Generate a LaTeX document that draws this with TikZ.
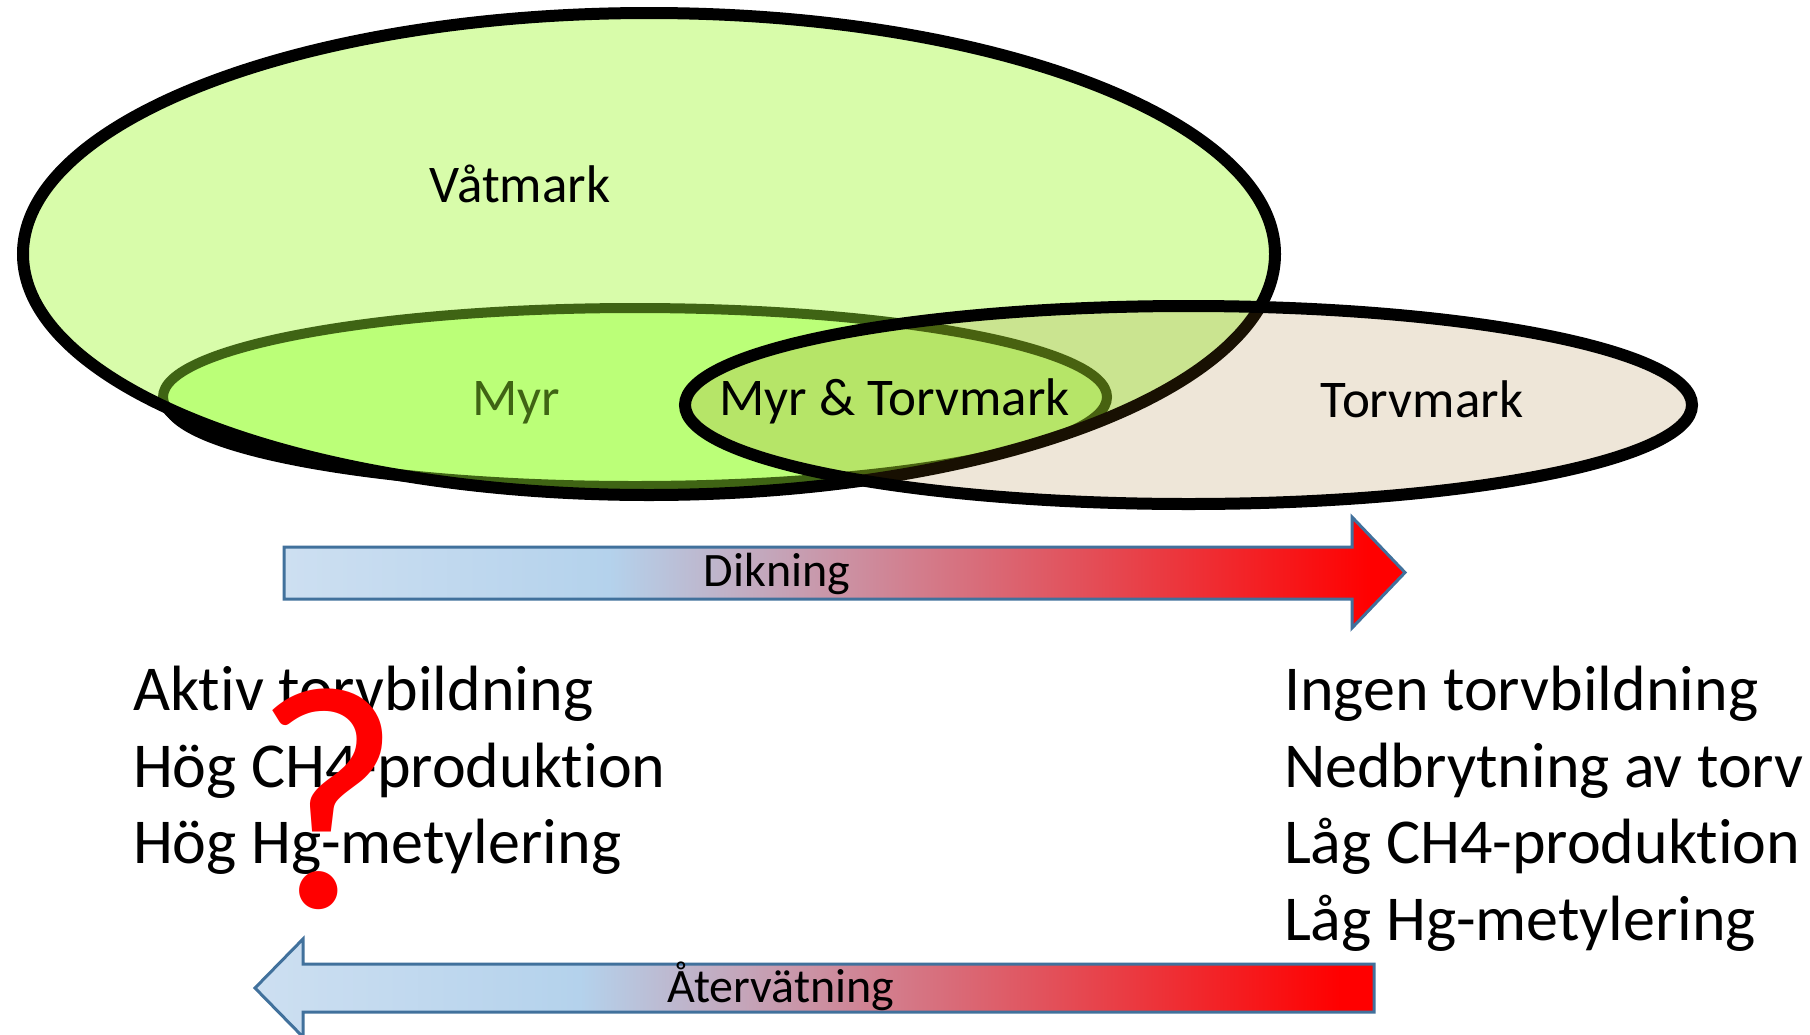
\documentclass[tikz,border=0pt]{standalone}
\usepackage{fontspec}
\setmainfont{Carlito}[Ligatures=NoCommon]

% fills of the three sets and of their overlaps
\definecolor{wetfill}{RGB}{216,252,170}
\definecolor{bogfill}{RGB}{187,255,120}
\definecolor{bogedge}{RGB}{63,100,20}
\definecolor{peatfill}{RGB}{238,230,216}
\definecolor{wetpeat}{RGB}{202,228,144}
\definecolor{bogpeat}{RGB}{182,229,104}
\definecolor{bogedgedim}{RGB}{72,98,16}
\definecolor{wetedgedim}{RGB}{24,16,2}
% arrows
\definecolor{arrowedge}{RGB}{65,113,156}
\definecolor{paleblue}{RGB}{205,223,241}
\definecolor{skyblue}{RGB}{180,210,236}
\definecolor{hotred}{RGB}{255,0,0}
\definecolor{qred}{RGB}{255,0,0}

\pgfdeclarehorizontalshading{flowshade}{100bp}{%
  color(0bp)=(paleblue); color(25bp)=(paleblue); color(39.5bp)=(skyblue);
  color(73.5bp)=(hotred); color(100bp)=(hotred)}

\begin{document}
\begin{tikzpicture}[x=1pt,y=-1pt,
  wetr/.style={x radius=626, y radius=241},
  bogr/.style={x radius=472, y radius=89},
  peatr/.style={x radius=503.5, y radius=99},
  lbl/.style={inner sep=0pt, outer sep=0pt},
  bigtxt/.style={lbl, anchor=base west, font=\fontsize{64}{76}\selectfont},
  setname/.style={lbl, anchor=base, font=\fontsize{53}{62}\selectfont},
  flowname/.style={lbl, anchor=base, font=\fontsize{48}{56}\selectfont},
  flowarrow/.style={draw=arrowedge, line width=3pt, line join=miter, shade, shading=flowshade},
]
\useasboundingbox[fill=white] (0,0) rectangle (1810,1034);

\coordinate (wetc) at (649,254);
\coordinate (bogc) at (635,397);
\coordinate (bogshadow) at (635,404);
\coordinate (peatc) at (1188.5,405);

% Myr and its shadow, dark wherever they stick out below Våtmark
\begin{scope}
  \clip (0,0) rectangle (860,1034);
  \filldraw[black, line width=10pt] (bogc) ellipse [bogr];
  \fill[black] (bogshadow) ellipse [bogr];
\end{scope}
% Våtmark interior
\fill[wetfill] (wetc) ellipse [wetr];
% Myr inside Våtmark
\begin{scope}
  \clip (wetc) ellipse [wetr];
  \filldraw[fill=bogfill, draw=bogedge, line width=10pt] (bogc) ellipse [bogr];
\end{scope}
% Våtmark rim
\draw[black, line width=12pt] (wetc) ellipse [wetr];

% Torvmark, tinting everything below it
\begin{scope}
  \clip (peatc) ellipse [peatr];
  \fill[peatfill] (0,0) rectangle (1810,1034);
  \begin{scope}
    \clip (wetc) ellipse [wetr];
    \fill[wetpeat] (0,0) rectangle (1810,1034);
    \clip (bogc) ellipse [bogr];
    \fill[bogpeat] (0,0) rectangle (1810,1034);
  \end{scope}
  \begin{scope}
    \clip (wetc) ellipse [wetr];
    \draw[bogedgedim, line width=10pt] (bogc) ellipse [bogr];
  \end{scope}
  \draw[wetedgedim, line width=12pt] (wetc) ellipse [wetr];
\end{scope}
\draw[black, line width=12pt] (peatc) ellipse [peatr];

% set names
\node[setname] (wetlabel) at (520,202) {Våtmark};
\node[setname, text=bogedge] (boglabel) at (516,415) {Myr};
\node[setname] (bothlabel) at (894.5,415) {Myr \& Torvmark};
\node[setname] (peatlabel) at (1422,417) {Torvmark};

% drainage arrow
\path[flowarrow] (284,547) -- (1352,547) -- (1352,517) -- (1405,572.5)
  -- (1352,628) -- (1352,599) -- (284,599) -- cycle;
\node[flowname] (drainlabel) at (777,586) {Dikning};

% rewetting arrow
\path[flowarrow] (1374,964) -- (303,964) -- (303,939) -- (255,988)
  -- (303,1037) -- (303,1012) -- (1374,1012) -- cycle;
\node[flowname] (rewetlabel) at (781,1002) {Återvätning};

% effects of wet conditions
\node[bigtxt] (wet1) at (133,710) {Aktiv torvbildning};
\node[bigtxt] (wet2) at (133,787) {Hög CH4-produktion};
\node[bigtxt] (wet3) at (133,863) {Hög Hg-metylering};

% effects of drained conditions
\node[bigtxt] (dry1) at (1284,710) {Ingen torvbildning};
\node[bigtxt] (dry2) at (1284,787) {Nedbrytning av torv};
\node[bigtxt] (dry3) at (1284,863) {Låg CH4-produktion};
\node[bigtxt] (dry4) at (1284,940) {Låg Hg-metylering};

% open question over the wet side
\node[lbl, anchor=base, text=qred, font=\fontsize{320}{320}\selectfont] (query) at (328,907) {?};
\end{tikzpicture}
\end{document}
